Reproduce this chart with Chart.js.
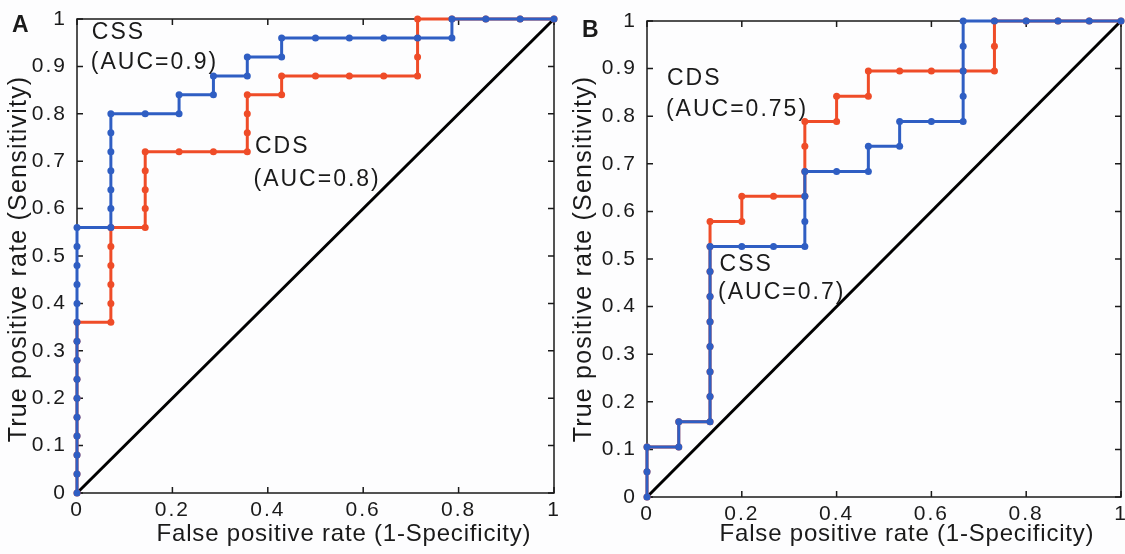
<!DOCTYPE html>
<html>
<head>
<meta charset="utf-8">
<script src="https://cdn.jsdelivr.net/npm/chart.js@4.4.1/dist/chart.umd.min.js"></script>
<style>
  html, body { margin: 0; padding: 0; background: #fdfdfe; }
  #wrap { position: relative; width: 1125px; height: 554px; }
  canvas { position: absolute; top: 0; }
  #rocA { left: 0; }
  #rocB { left: 570px; }
</style>
</head>
<body>
<div id="wrap">
  <canvas id="rocA" width="570" height="554"></canvas>
  <canvas id="rocB" width="555" height="554"></canvas>
</div>
<script>
// Panel A - ROC points (false positive rate / true positive rate)
const cssAFpr = [0, 0, 0, 0, 0, 0, 0, 0, 0, 0, 0, 0, 0, 0, 0,
  0.071, 0.071, 0.071, 0.071, 0.071, 0.071, 0.071,
  0.143, 0.214, 0.214, 0.286, 0.286, 0.357, 0.357, 0.429, 0.429,
  0.5, 0.571, 0.643, 0.714, 0.786, 0.786, 0.857, 0.929, 1];
const cssATpr = [0, 0.04, 0.08, 0.12, 0.16, 0.2, 0.24, 0.28, 0.32, 0.36, 0.4, 0.44, 0.48, 0.52, 0.56,
  0.56, 0.6, 0.64, 0.68, 0.72, 0.76, 0.8,
  0.8, 0.8, 0.84, 0.84, 0.88, 0.88, 0.92, 0.92, 0.96,
  0.96, 0.96, 0.96, 0.96, 0.96, 1, 1, 1, 1];

const cdsAFpr = [0, 0, 0, 0, 0, 0, 0, 0, 0, 0,
  0.071, 0.071, 0.071, 0.071, 0.071, 0.071,
  0.143, 0.143, 0.143, 0.143, 0.143,
  0.214, 0.286, 0.357, 0.357, 0.357, 0.357,
  0.429, 0.429, 0.5, 0.571, 0.643, 0.714, 0.714, 0.714, 0.714,
  0.786, 0.857, 0.929, 1];
const cdsATpr = [0, 0.04, 0.08, 0.12, 0.16, 0.2, 0.24, 0.28, 0.32, 0.36,
  0.36, 0.4, 0.44, 0.48, 0.52, 0.56,
  0.56, 0.6, 0.64, 0.68, 0.72,
  0.72, 0.72, 0.72, 0.76, 0.8, 0.84,
  0.84, 0.88, 0.88, 0.88, 0.88, 0.88, 0.92, 0.96, 1,
  1, 1, 1, 1];

// Panel B
const cssBFpr = [0, 0, 0, 0.067, 0.067, 0.133, 0.133, 0.133, 0.133, 0.133, 0.133, 0.133, 0.133,
  0.2, 0.267, 0.333, 0.333, 0.333, 0.333, 0.4, 0.467, 0.467, 0.533, 0.533,
  0.6, 0.667, 0.667, 0.667, 0.667, 0.667, 0.733, 0.8, 0.867, 0.933, 1];
const cssBTpr = [0, 0.053, 0.105, 0.105, 0.158, 0.158, 0.211, 0.263, 0.316, 0.368, 0.421, 0.474, 0.526,
  0.526, 0.526, 0.526, 0.579, 0.632, 0.684, 0.684, 0.684, 0.737, 0.737, 0.789,
  0.789, 0.789, 0.842, 0.895, 0.947, 1, 1, 1, 1, 1, 1];

const cdsBFpr = [0, 0, 0, 0.067, 0.067, 0.133, 0.133, 0.133, 0.133, 0.133, 0.133, 0.133, 0.133, 0.133,
  0.2, 0.2, 0.267, 0.333, 0.333, 0.333, 0.333, 0.4, 0.4, 0.467, 0.467,
  0.533, 0.6, 0.667, 0.733, 0.733, 0.733, 0.8, 0.867, 0.933, 1];
const cdsBTpr = [0, 0.053, 0.105, 0.105, 0.158, 0.158, 0.211, 0.263, 0.316, 0.368, 0.421, 0.474, 0.526, 0.579,
  0.579, 0.632, 0.632, 0.632, 0.684, 0.737, 0.789, 0.789, 0.842, 0.842, 0.895,
  0.895, 0.895, 0.895, 0.895, 0.947, 1, 1, 1, 1, 1];

const chanceLine = [0, 1];
const xTicks = [0, 0.2, 0.4, 0.6, 0.8, 1];
const yTicks = [0, 0.1, 0.2, 0.3, 0.4, 0.5, 0.6, 0.7, 0.8, 0.9, 1];

const X_TITLE = "False positive rate (1-Specificity)";
const Y_TITLE = "True positive rate (Sensitivity)";

const BLUE = "#2f5ec3";
const RED = "#ef4c28";
const INK = "#1a1a1a";
const FONT = "'Liberation Sans', Arial, sans-serif";

Chart.defaults.font.family = FONT;
Chart.defaults.color = INK;

function toPoints(xs, ys) {
  return xs.map((x, i) => ({ x: x, y: ys[i] }));
}

// frame with inward ticks (MATLAB style), axis titles, notes, panel letter
const boxTicks = {
  id: "boxTicks",
  beforeDraw(chart) {
    // the exported figure has loose letter spacing on tick labels
    chart.ctx.letterSpacing = "2px";
  },
  beforeDatasetsDraw(chart) {
    const { ctx, chartArea: a, scales } = chart;
    const len = 6;
    ctx.save();
    ctx.strokeStyle = INK;
    ctx.lineWidth = 1.5;
    ctx.strokeRect(a.left, a.top, a.right - a.left, a.bottom - a.top);
    ctx.beginPath();
    xTicks.forEach((v) => {
      const px = scales.x.getPixelForValue(v);
      ctx.moveTo(px, a.bottom); ctx.lineTo(px, a.bottom - len);
      ctx.moveTo(px, a.top); ctx.lineTo(px, a.top + len);
    });
    yTicks.forEach((v) => {
      const py = scales.y.getPixelForValue(v);
      ctx.moveTo(a.left, py); ctx.lineTo(a.left + len, py);
      ctx.moveTo(a.right, py); ctx.lineTo(a.right - len, py);
    });
    ctx.stroke();
    ctx.restore();
  },
  afterDraw(chart, args, opts) {
    const { ctx, scales } = chart;
    ctx.save();
    ctx.fillStyle = INK;
    ctx.textBaseline = "middle";

    // axis titles
    ctx.font = "24px " + FONT;
    ctx.letterSpacing = "0.8px";
    ctx.textAlign = "center";
    ctx.fillText(X_TITLE, opts.xTitleX, opts.xTitleY);
    ctx.font = "25px " + FONT;
    ctx.letterSpacing = "1.2px";
    ctx.save();
    ctx.translate(opts.yTitleX, opts.yTitleY);
    ctx.rotate(-Math.PI / 2);
    ctx.fillText(Y_TITLE, 0, 0);
    ctx.restore();

    // curve notes
    ctx.textAlign = "left";
    ctx.font = "23px " + FONT;
    ctx.letterSpacing = "2px";
    (opts.notes || []).forEach((n) => {
      ctx.fillText(n.text, scales.x.getPixelForValue(n.x), scales.y.getPixelForValue(n.y));
    });

    ctx.letterSpacing = "0px";
    ctx.font = "bold 23px " + FONT;
    ctx.textBaseline = "top";
    ctx.fillText(opts.letter, opts.letterX, opts.letterY);
    ctx.restore();
  },
};

function tickText(v) {
  return String(Number(v.toFixed(1)));
}

function makeRoc(canvasId, cfg) {
  const canvas = document.getElementById(canvasId);
  const ctx = canvas.getContext("2d");
  return new Chart(ctx, {
    type: "scatter",
    data: {
      datasets: [
        {
          label: "CSS",
          data: toPoints(cfg.cssFpr, cfg.cssTpr),
          showLine: true,
          borderColor: BLUE,
          backgroundColor: BLUE,
          borderWidth: 3,
          pointRadius: 3.5,
          pointBorderWidth: 0,
          order: 0,
          clip: false,
        },
        {
          label: "CDS",
          data: toPoints(cfg.cdsFpr, cfg.cdsTpr),
          showLine: true,
          borderColor: RED,
          backgroundColor: RED,
          borderWidth: 3,
          pointRadius: 3.5,
          pointBorderWidth: 0,
          order: 1,
          clip: false,
        },
        {
          label: "Chance",
          data: toPoints(chanceLine, chanceLine),
          showLine: true,
          borderColor: "#000000",
          borderWidth: 3,
          pointRadius: 0,
          order: 2,
          clip: false,
        },
      ],
    },
    options: {
      responsive: false,
      animation: false,
      layout: { padding: { top: cfg.top, right: cfg.right, left: 0, bottom: 0 } },
      plugins: {
        legend: { display: false },
        tooltip: { enabled: false },
        boxTicks: {
          notes: cfg.notes,
          letter: cfg.letter, letterX: cfg.letterX, letterY: cfg.letterY,
          xTitleX: cfg.xTitleX, xTitleY: 534,
          yTitleX: cfg.yTitleX, yTitleY: 259,
        },
      },
      scales: {
        x: {
          type: "linear",
          min: 0,
          max: 1,
          afterBuildTicks: (s) => { s.ticks = xTicks.map((v) => ({ value: v })); },
          afterFit: (s) => { s.height = cfg.xAxisH; s.paddingLeft = 0; s.paddingRight = 0; },
          grid: { display: false },
          border: { display: false },
          ticks: { padding: -3, font: { size: 21 }, color: INK, callback: tickText },
        },
        y: {
          type: "linear",
          min: 0,
          max: 1,
          afterBuildTicks: (s) => { s.ticks = yTicks.map((v) => ({ value: v })); },
          afterFit: (s) => { s.width = cfg.yAxisW; s.paddingTop = 0; s.paddingBottom = 0; },
          grid: { display: false },
          border: { display: false },
          ticks: { padding: 2, font: { size: 21 }, color: INK, callback: tickText },
        },
      },
    },
    plugins: [boxTicks],
  });
}

makeRoc("rocA", {
  cssFpr: cssAFpr, cssTpr: cssATpr,
  cdsFpr: cdsAFpr, cdsTpr: cdsATpr,
  top: 19, right: 16, yAxisW: 77, xAxisH: 61,
  xTitleX: 344, yTitleX: 19,
  letter: "A", letterX: 12, letterY: 14,
  notes: [
    { text: "CSS", x: 0.031, y: 0.972 },
    { text: "(AUC=0.9)", x: 0.029, y: 0.907 },
    { text: "CDS", x: 0.373, y: 0.73 },
    { text: "(AUC=0.8)", x: 0.37, y: 0.662 },
  ],
});

makeRoc("rocB", {
  cssFpr: cssBFpr, cssTpr: cssBTpr,
  cdsFpr: cdsBFpr, cdsTpr: cdsBTpr,
  top: 21, right: 2, yAxisW: 77, xAxisH: 57,
  xTitleX: 337, yTitleX: 14,
  letter: "B", letterX: 12, letterY: 19,
  notes: [
    { text: "CDS", x: 0.042, y: 0.878 },
    { text: "(AUC=0.75)", x: 0.04, y: 0.813 },
    { text: "CSS", x: 0.153, y: 0.489 },
    { text: "(AUC=0.7)", x: 0.15, y: 0.429 },
  ],
});
</script>
</body>
</html>
